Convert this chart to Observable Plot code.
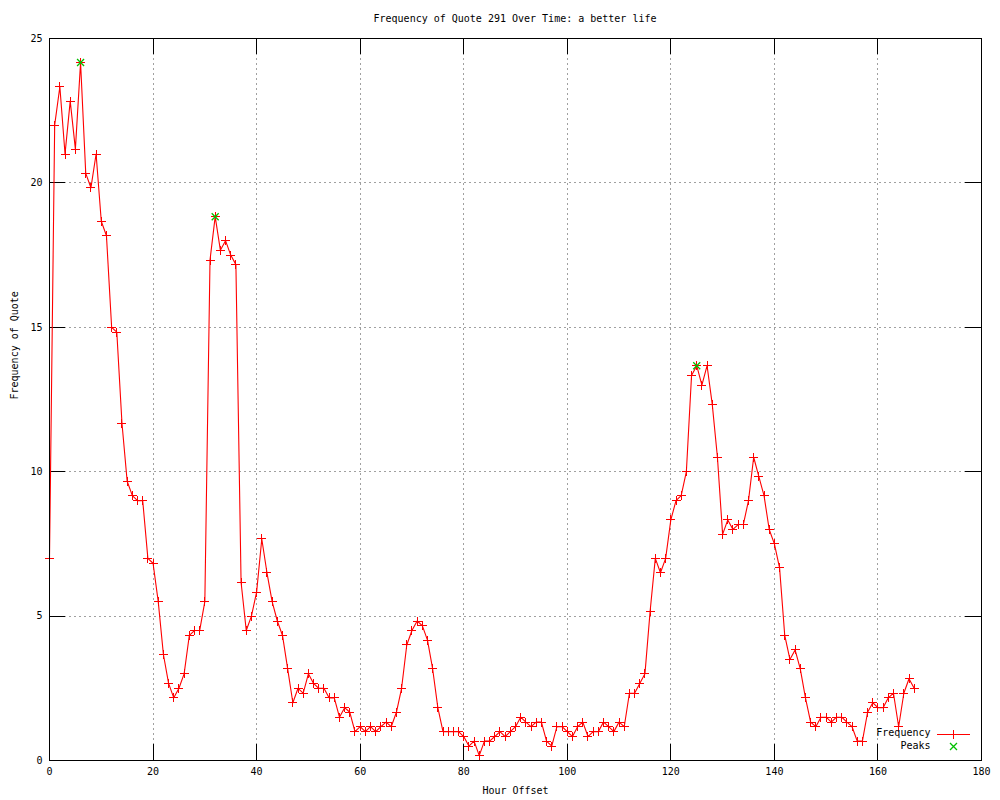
<!DOCTYPE html>
<html>
<head>
<meta charset="utf-8">
<script src="https://cdn.jsdelivr.net/npm/d3@7"></script>
<script src="https://cdn.jsdelivr.net/npm/@observablehq/plot@0.6"></script>
<style>
  html, body { margin: 0; padding: 0; background: #fff; }
  body { width: 1000px; height: 800px; overflow: hidden; font-family: "DejaVu Sans Mono", monospace; }
  #title { position: relative; width: 1000px; height: 30px; }
  #title span { position: absolute; left: 515px; top: 18px; transform: translate(-50%, -50%); font-size: 10px; white-space: nowrap; color: #000; }
  #chart svg { display: block; overflow: visible; }
</style>
</head>
<body>
<div id="title"><span>Frequency of Quote 291 Over Time: a better life</span></div>
<div id="chart"></div>
<script>
// ---- data ----
const titleText = "Frequency of Quote 291 Over Time: a better life";
const xLabel = "Hour Offset";
const yLabel = "Frequency of Quote";
const seriesName = "Frequency";
const peaksName = "Peaks";

const startHour = 0;
const frequency = [
  7, 22, 23.33, 21, 22.83, 21.17, 24.17, 20.33, 19.83, 21,
  18.67, 18.17, 15, 14.83, 11.67, 9.67, 9.17, 9, 9, 7,
  6.83, 5.5, 3.67, 2.67, 2.17, 2.5, 3, 4.33, 4.5, 4.5,
  5.5, 17.33, 18.83, 17.67, 18, 17.5, 17.17, 6.17, 4.5, 5,
  5.83, 7.67, 6.5, 5.5, 4.83, 4.33, 3.17, 2, 2.5, 2.33,
  3, 2.67, 2.5, 2.5, 2.17, 2.17, 1.5, 1.83, 1.67, 1,
  1.17, 1, 1.17, 1, 1.17, 1.33, 1.17, 1.67, 2.5, 4,
  4.5, 4.83, 4.67, 4.17, 3.17, 1.83, 1, 1, 1, 1,
  0.83, 0.5, 0.67, 0.17, 0.67, 0.67, 0.83, 1, 0.83, 1,
  1.17, 1.5, 1.33, 1.17, 1.33, 1.33, 0.67, 0.5, 1.17, 1.17,
  1, 0.83, 1.17, 1.33, 0.83, 1, 1, 1.33, 1.17, 1,
  1.33, 1.17, 2.33, 2.33, 2.67, 3, 5.17, 7, 6.5, 7,
  8.33, 9, 9.17, 10, 13.33, 13.67, 13, 13.67, 12.33, 10.5,
  7.83, 8.33, 8, 8.17, 8.17, 9, 10.5, 9.83, 9.17, 8,
  7.5, 6.67, 4.33, 3.5, 3.83, 3.17, 2.17, 1.33, 1.17, 1.5,
  1.5, 1.33, 1.5, 1.5, 1.33, 1.17, 0.67, 0.67, 1.67, 2,
  1.83, 1.83, 2.17, 2.33, 1.17, 2.33, 2.83, 2.5
];
const peakHours = [6, 32, 125];
const peakValues = [24.17, 18.83, 13.67];

const xTicks = [0, 20, 40, 60, 80, 100, 120, 140, 160, 180];
const yTicks = [0, 5, 10, 15, 20, 25];
const xDomain = [0, 180];
const yDomain = [0, 25];

// ---- build tables ----
const series = frequency.map((v, i) => ({hour: startHour + i, value: v}));
const peaks = peakHours.map((h, i) => ({hour: h, value: peakValues[i]}));

// ---- styling ----
const W = 1000, H = 770;
const mL = 49, mR = 19, mT = 8, mB = 40;
const frameW = W - mL - mR, frameH = H - mT - mB;
const tickLen = 16;
const red = "#ff0000", green = "#00c000", gridGray = "#a0a0a0";

const plusSym = {draw(ctx) { ctx.moveTo(-4.5, 0); ctx.lineTo(4.5, 0); ctx.moveTo(0, -4.5); ctx.lineTo(0, 4.5); }};
const crossSym = {draw(ctx) { ctx.moveTo(-3.5, -3.5); ctx.lineTo(3.5, 3.5); ctx.moveTo(-3.5, 3.5); ctx.lineTo(3.5, -3.5); }};
const legendLineSym = {draw(ctx) { ctx.moveTo(-16.5, 0); ctx.lineTo(16.5, 0); ctx.moveTo(0, -4.5); ctx.lineTo(0, 4.5); }};

const innerX = xTicks.filter(t => t > xDomain[0] && t < xDomain[1]);
const innerY = yTicks.filter(t => t > yDomain[0] && t < yDomain[1]);

const chart = Plot.plot({
  width: W,
  height: H,
  marginLeft: mL,
  marginRight: mR,
  marginTop: mT,
  marginBottom: mB,
  style: {fontFamily: "'DejaVu Sans Mono', monospace", fontSize: "10px", background: "#fff", color: "#000", overflow: "visible"},
  x: {domain: xDomain, ticks: xTicks, tickSize: 0, tickPadding: 7, tickFormat: d => String(d), label: null},
  y: {domain: yDomain, ticks: yTicks, tickSize: 0, tickPadding: 7, tickFormat: d => String(d), label: null},
  marks: [
    // grid
    Plot.ruleX(innerX, {stroke: gridGray, strokeWidth: 1, strokeDasharray: "2,3", shapeRendering: "crispEdges"}),
    Plot.ruleY(innerY, {stroke: gridGray, strokeWidth: 1, strokeDasharray: "2,3", shapeRendering: "crispEdges"}),
    // inward ticks on all four sides
    Plot.tickX(xTicks, {stroke: "#000", insetTop: frameH - tickLen, shapeRendering: "crispEdges"}),
    Plot.tickX(xTicks, {stroke: "#000", insetBottom: frameH - tickLen, shapeRendering: "crispEdges"}),
    Plot.tickY(yTicks, {stroke: "#000", insetRight: frameW - tickLen, shapeRendering: "crispEdges"}),
    Plot.tickY(yTicks, {stroke: "#000", insetLeft: frameW - tickLen, shapeRendering: "crispEdges"}),
    // data
    Plot.line(series, {x: "hour", y: "value", stroke: red, strokeWidth: 1.1}),
    Plot.dot(series, {x: "hour", y: "value", symbol: plusSym, fill: "none", stroke: red, strokeWidth: 1, shapeRendering: "crispEdges"}),
    Plot.dot(peaks, {x: "hour", y: "value", symbol: crossSym, fill: "none", stroke: green, strokeWidth: 1.3}),
    // frame
    Plot.frame({stroke: "#000", strokeWidth: 1, shapeRendering: "crispEdges"}),
    // axis labels
    Plot.text([xLabel], {frameAnchor: "bottom", dy: 33, fill: "#000", fontSize: 10}),
    Plot.text([yLabel], {frameAnchor: "left", dx: -35, rotate: -90, fill: "#000", fontSize: 10}),
    // legend
    Plot.text([seriesName], {frameAnchor: "bottom-right", dx: -51, dy: -24.5, textAnchor: "end", fill: "#000", fontSize: 10}),
    Plot.text([peaksName], {frameAnchor: "bottom-right", dx: -51, dy: -12, textAnchor: "end", fill: "#000", fontSize: 10}),
    Plot.dot([seriesName], {frameAnchor: "bottom-right", dx: -28, dy: -26.5, symbol: legendLineSym, fill: "none", stroke: red, strokeWidth: 1, shapeRendering: "crispEdges"}),
    Plot.dot([peaksName], {frameAnchor: "bottom-right", dx: -28, dy: -14, symbol: crossSym, fill: "none", stroke: green, strokeWidth: 1.3})
  ]
});
document.getElementById("chart").appendChild(chart);
</script>
</body>
</html>
